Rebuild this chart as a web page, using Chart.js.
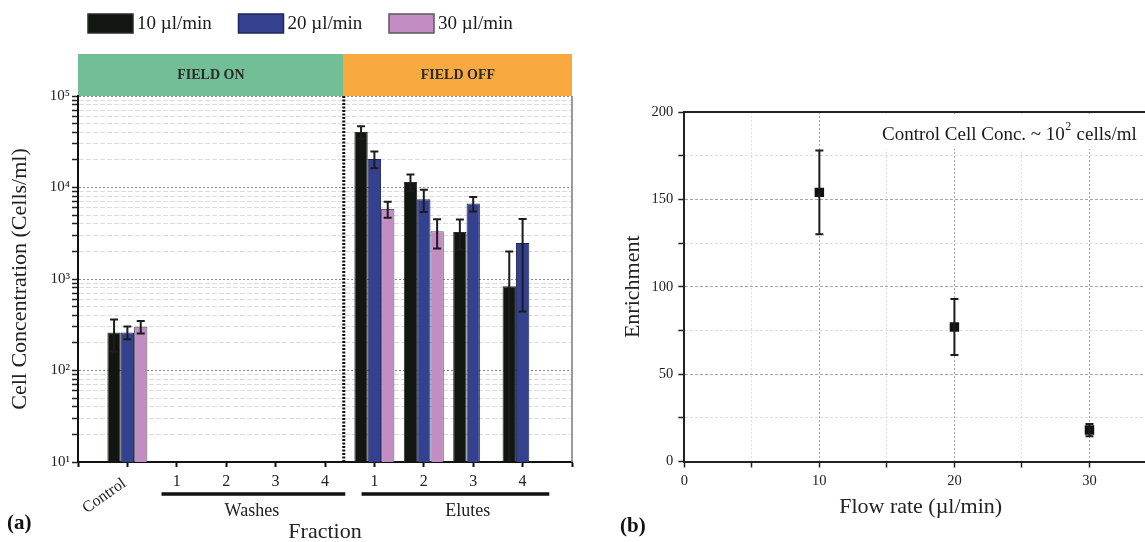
<!DOCTYPE html>
<html><head><meta charset="utf-8">
<script src="https://cdn.jsdelivr.net/npm/chart.js@4.4.0/dist/chart.umd.min.js"></script>
<style>
html,body{margin:0;padding:0;background:#fff;overflow:hidden;width:1145px;height:542px;position:relative;}
#ca{position:absolute;left:0;top:0;}
#cb{position:absolute;left:590px;top:0;}
</style></head><body>
<canvas id="ca" width="590" height="542"></canvas>
<canvas id="cb" width="600" height="542"></canvas>
<script>
const FONT = "'Liberation Serif', 'Times New Roman', serif";

// ---------- Panel (a) data ----------
const fractions = ['Control', '1', '2', '3', '4', '1', '2', '3', '4'];
const seriesNames = ['10 µl/min', '20 µl/min', '30 µl/min'];
const conc10 = [261, null, null, null, null, 40400, 11500, 3270, 834];
const err10  = [100, null, null, null, null, 6200, 2350, 1190, 1160];
const conc20 = [261, null, null, null, null, 20500, 7430, 6670, 2480];
const err20  = [42, null, null, null, null, 4250, 2030, 1200, 2040];
const conc30 = [300, null, null, null, null, 5820, 3330, null, null];
const err30  = [47, null, null, null, null, 1150, 1170, null, null];
const decades = [10, 100, 1000, 10000, 100000];
const decadeLabels = ['10¹', '10²', '10³', '10⁴', '10⁵'];
const minorMultipliers = [2, 3, 4, 5, 6, 7, 8, 9];
const groupLabels = ['Washes', 'Elutes'];
const bandLabels = ['FIELD ON', 'FIELD OFF'];

// ---------- Panel (b) data ----------
const flowRates = [10, 20, 30];
const enrichment = [154, 77, 18];
const enrichErr = [24, 16, 3.5];
const enrichTickLabels = [0, 50, 100, 150, 200];
const flowTickLabels = [0, 10, 20, 30];

const axisLabels = [''].concat(fractions, ['']);
const pad = arr => [null].concat(arr, [null]);
const yTickValues = [];
decades.forEach((d, i) => {
  yTickValues.push(d);
  if (i < decades.length - 1) minorMultipliers.forEach(m => yTickValues.push(m * d));
});
const isDecade = v => decades.indexOf(v) >= 0;

const errorBars = {
  id: 'errorBars',
  afterDatasetsDraw(chart) {
    const ctx = chart.ctx;
    const ys = chart.scales.y;
    chart.data.datasets.forEach((ds, di) => {
      if (!ds.errors) return;
      const meta = chart.getDatasetMeta(di);
      meta.data.forEach((el, i) => {
        const raw = ds.data[i];
        const v = (raw !== null && typeof raw === 'object') ? raw.y : raw;
        const e = ds.errors[i];
        if (v == null || e == null) return;
        const x = el.x;
        const lo = v - e, hi = v + e;
        const loOk = lo > ys.min;
        const yLo = loOk ? ys.getPixelForValue(lo) : ys.bottom;
        const yHi = ys.getPixelForValue(hi);
        const c = ds.capWidth || 4;
        ctx.save();
        ctx.strokeStyle = '#1c1c1c';
        ctx.lineWidth = 2;
        ctx.beginPath();
        ctx.moveTo(x, yLo); ctx.lineTo(x, yHi);
        ctx.moveTo(x - c, yHi); ctx.lineTo(x + c, yHi);
        if (loOk) { ctx.moveTo(x - c, yLo); ctx.lineTo(x + c, yLo); }
        ctx.stroke();
        ctx.restore();
      });
    });
  }
};

const DIVIDER = 5.38;

const panelA = {
  id: 'panelA',
  beforeDraw(chart) {
    const ctx = chart.ctx, ca = chart.chartArea, xs = chart.scales.x;
    const xd = xs.getPixelForValue(DIVIDER);
    ctx.save();
    ctx.fillStyle = '#fff';
    ctx.fillRect(0, 0, chart.width, chart.height);
    ctx.fillStyle = '#72BE97';
    ctx.fillRect(ca.left, 54, xd - ca.left, ca.top - 54);
    ctx.fillStyle = '#F8A93F';
    ctx.fillRect(xd, 54, ca.right - xd, ca.top - 54);
    ctx.fillStyle = '#2a2a2a';
    ctx.font = 'bold 14px ' + FONT;
    ctx.textAlign = 'center'; ctx.textBaseline = 'middle';
    ctx.fillText(bandLabels[0], (ca.left + xd) / 2, 75);
    ctx.fillText(bandLabels[1], (xd + ca.right) / 2, 75);
    ctx.restore();
  },
  afterDatasetsDraw(chart) {
    const ctx = chart.ctx, ca = chart.chartArea, xs = chart.scales.x;
    const xd = xs.getPixelForValue(DIVIDER);
    ctx.save();
    ctx.strokeStyle = '#111';
    ctx.lineWidth = 3;
    ctx.setLineDash([2, 1.5]);
    ctx.beginPath(); ctx.moveTo(xd, ca.top); ctx.lineTo(xd, ca.bottom); ctx.stroke();
    ctx.setLineDash([]);
    ctx.strokeStyle = '#7a7a7a'; ctx.lineWidth = 1.5;
    ctx.beginPath(); ctx.moveTo(ca.right, ca.top); ctx.lineTo(ca.right, ca.bottom); ctx.stroke();
    ctx.restore();
  },
  afterDraw(chart) {
    const ctx = chart.ctx, xs = chart.scales.x;
    ctx.save();
    chart.data.datasets.forEach((ds, i) => {
      const x = 88 + i * 150.5, y = 14;
      ctx.fillStyle = ds.backgroundColor;
      ctx.fillRect(x, y, 45, 19);
      ctx.strokeStyle = ds.borderColor; ctx.lineWidth = 1.5;
      ctx.strokeRect(x, y, 45, 19);
      ctx.fillStyle = '#1a1a1a';
      ctx.font = '19px ' + FONT;
      ctx.textAlign = 'left'; ctx.textBaseline = 'middle';
      ctx.fillText(ds.label, x + 49, y + 10);
    });
    const xc = xs.getPixelForValue(1);
    ctx.save();
    ctx.translate(xc - 23, 496);
    ctx.rotate(-35 * Math.PI / 180);
    ctx.font = '16px ' + FONT; ctx.fillStyle = '#222';
    ctx.textAlign = 'center'; ctx.textBaseline = 'middle';
    ctx.fillText(fractions[0], 0, 0);
    ctx.restore();
    ctx.strokeStyle = '#111'; ctx.lineWidth = 3.5;
    ctx.beginPath();
    ctx.moveTo(xs.getPixelForValue(1.69), 494); ctx.lineTo(xs.getPixelForValue(5.41), 494);
    ctx.moveTo(xs.getPixelForValue(5.74), 494); ctx.lineTo(xs.getPixelForValue(9.54), 494);
    ctx.stroke();
    ctx.font = '18px ' + FONT; ctx.fillStyle = '#222';
    ctx.textAlign = 'center'; ctx.textBaseline = 'middle';
    ctx.fillText(groupLabels[0], xs.getPixelForValue(3.52), 511);
    ctx.fillText(groupLabels[1], xs.getPixelForValue(7.89), 511);
    ctx.font = 'bold 21px ' + FONT; ctx.textAlign = 'left';
    ctx.fillStyle = '#111';
    ctx.fillText('(a)', 7, 524);
    ctx.restore();
  }
};

new Chart(document.getElementById('ca'), {
  type: 'bar',
  data: {
    labels: axisLabels,
    datasets: [
      { label: seriesNames[0], data: pad(conc10), errors: pad(err10), backgroundColor: '#121611', borderColor: '#2b2b2b', borderWidth: 1, capWidth: 4 },
      { label: seriesNames[1], data: pad(conc20), errors: pad(err20), backgroundColor: '#34418F', borderColor: '#1f265a', borderWidth: 1, capWidth: 4 },
      { label: seriesNames[2], data: pad(conc30), errors: pad(err30), backgroundColor: '#C18DC3', borderColor: '#5a5a5a', borderWidth: 1, capWidth: 4 }
    ]
  },
  options: {
    responsive: false,
    animation: false,
    layout: { padding: { left: 0, top: 96, right: 18, bottom: 0 } },
    datasets: { bar: { categoryPercentage: 0.81, barPercentage: 1 } },
    plugins: { legend: { display: false }, tooltip: { enabled: false } },
    scales: {
      x: {
        type: 'category', offset: false,
        grid: { display: true, offset: false, drawOnChartArea: false, drawTicks: true, tickLength: 5, tickColor: '#111', tickWidth: 2 },
        border: { display: true, color: '#111', width: 2 },
        ticks: {
          font: { family: FONT, size: 16 }, color: '#222', padding: 5, maxRotation: 0, autoSkip: false,
          callback(v) { const l = this.getLabelForValue(v); return l === fractions[0] ? '' : l; }
        },
        title: { display: true, text: 'Fraction', font: { family: FONT, size: 22 }, color: '#222', padding: { top: 0, bottom: -3 } },
        afterFit(s) { s.height = 80; }
      },
      y: {
        type: 'logarithmic', min: 10, max: 100000,
        afterBuildTicks(s) { s.ticks = yTickValues.map(v => ({ value: v, major: isDecade(v) })); },
        ticks: {
          font: { family: FONT, size: 15 }, color: '#222', padding: 2, autoSkip: false,
          callback(v) { const i = decades.indexOf(v); return i >= 0 ? decadeLabels[i] : ''; }
        },
        grid: {
          color: c => (c.tick && isDecade(c.tick.value)) ? '#8a8a8a' : '#dcdcdc',
          lineWidth: 1, tickLength: 6, tickColor: '#222', tickWidth: 1.5
        },
        border: { color: '#111', width: 2, dash: c => c.tick ? (isDecade(c.tick.value) ? [2, 2] : [5, 2]) : [] },
        title: { display: true, text: 'Cell Concentration (Cells/ml)', font: { family: FONT, size: 22 }, color: '#222', padding: { top: 7, bottom: 0 } },
        afterFit(s) { s.width = 78; }
      }
    }
  },
  plugins: [panelA, errorBars]
});

// ---------- Panel (b) ----------
const panelB = {
  id: 'panelB',
  beforeDraw(chart) {
    const ctx = chart.ctx;
    ctx.save(); ctx.fillStyle = '#fff'; ctx.fillRect(0, 0, chart.width, chart.height); ctx.restore();
  },
  beforeDatasetsDraw(chart) {
    const ctx = chart.ctx, ca = chart.chartArea;
    ctx.save();
    ctx.fillStyle = '#fff';
    ctx.fillRect(284, ca.top + 2, chart.width - 284, 35);
    ctx.fillStyle = '#1a1a1a';
    ctx.textBaseline = 'middle'; ctx.textAlign = 'left';
    ctx.font = '19px ' + FONT;
    let x = 292;
    const y = 135;
    const t1 = 'Control Cell Conc. ~ 10';
    ctx.fillText(t1, x, y); x += ctx.measureText(t1).width;
    ctx.font = '12px ' + FONT;
    ctx.fillText('2', x + 0.5, y - 8); x += ctx.measureText('2').width + 1;
    ctx.font = '19px ' + FONT;
    ctx.fillText(' cells/ml', x, y);
    ctx.strokeStyle = '#222'; ctx.lineWidth = 2;
    ctx.beginPath(); ctx.moveTo(ca.left, ca.top); ctx.lineTo(ca.right, ca.top); ctx.stroke();
    ctx.restore();
  },
  afterDraw(chart) {
    const ctx = chart.ctx;
    ctx.save();
    ctx.font = 'bold 21px ' + FONT; ctx.fillStyle = '#111';
    ctx.textAlign = 'left'; ctx.textBaseline = 'middle';
    ctx.fillText('(b)', 30, 527);
    ctx.restore();
  }
};

new Chart(document.getElementById('cb'), {
  type: 'scatter',
  data: {
    datasets: [{
      label: 'Enrichment',
      data: flowRates.map((x, i) => ({ x: x, y: enrichment[i] })),
      errors: enrichErr,
      capWidth: 4,
      pointStyle: 'rect', pointRadius: 6.7, pointHoverRadius: 6.7,
      backgroundColor: '#111', borderColor: '#111', borderWidth: 0
    }]
  },
  options: {
    responsive: false,
    animation: false,
    layout: { padding: { left: 0, top: 112, right: 33, bottom: 0 } },
    plugins: { legend: { display: false }, tooltip: { enabled: false } },
    scales: {
      x: {
        type: 'linear', min: 0, max: 35,
        ticks: {
          stepSize: 5, autoSkip: false, maxRotation: 0, padding: 5,
          font: { family: FONT, size: 14.5 }, color: '#222',
          callback: v => flowTickLabels.indexOf(v) >= 0 ? String(v) : ''
        },
        grid: {
          color: c => (c.tick && c.tick.value % 10 === 0) ? '#a5a5a5' : '#dedede',
          lineWidth: 1, tickLength: 6, tickColor: '#222', tickWidth: 1.5
        },
        border: { color: '#222', width: 2, dash: c => c.tick ? [2, 2] : [] },
        title: { display: true, text: 'Flow rate (µl/min)', font: { family: FONT, size: 22 }, color: '#222', padding: { top: 0, bottom: 22 } },
        afterFit(s) { s.height = 80.5; }
      },
      y: {
        type: 'linear', min: 0, max: 200,
        ticks: {
          stepSize: 25, autoSkip: false, padding: 5,
          font: { family: FONT, size: 14.5 }, color: '#222',
          callback: v => enrichTickLabels.indexOf(v) >= 0 ? String(v) : ''
        },
        grid: {
          color: c => (c.tick && c.tick.value % 50 === 0) ? '#a5a5a5' : '#dedede',
          lineWidth: 1, tickLength: 6, tickColor: '#222', tickWidth: 1.5
        },
        border: { color: '#222', width: 2, dash: c => c.tick ? [3, 2] : [] },
        title: { display: true, text: 'Enrichment', font: { family: FONT, size: 22 }, color: '#222', padding: { top: 30, bottom: 0 } },
        afterFit(s) { s.width = 94.3; }
      }
    }
  },
  plugins: [panelB, errorBars]
});
</script>
</body></html>
